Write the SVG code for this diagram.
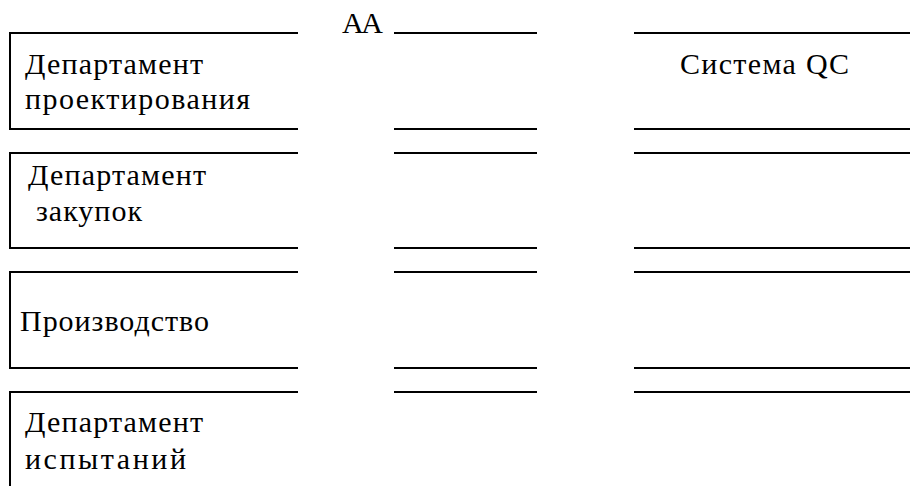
<svg xmlns="http://www.w3.org/2000/svg" width="910" height="486" viewBox="0 0 910 486">
<style>
.ln{stroke:#000;stroke-width:2;fill:none}
text{font-family:'Liberation Serif','Times New Roman',serif;font-size:30px;fill:#000}
</style>
<rect width="910" height="486" fill="#fff"/>
<g id="dept-design">
<path class="ln" d="M298 33H10V129H298"/>
<text x="25" y="74" textLength="178">Департамент</text>
<text x="25" y="109" textLength="225">проектирования</text>
</g>
<g id="dept-purchase">
<path class="ln" d="M298 153H10V248H298"/>
<text x="28" y="185" textLength="178">Департамент</text>
<text x="36" y="221" textLength="106">закупок</text>
</g>
<g id="production">
<path class="ln" d="M298 272H10V368H298"/>
<text x="20" y="331" textLength="189">Производство</text>
</g>
<g id="dept-testing">
<path class="ln" d="M298 392H10V486"/>
<text x="25" y="432" textLength="178">Департамент</text>
<text x="25" y="469" textLength="161">испытаний</text>
</g>
<g id="aa">
<text x="342" y="33" textLength="41">AA</text>
<path class="ln" d="M394 33H537M394 129H537M394 153H537M394 248H537M394 272H537M394 368H537M394 392H537"/>
</g>
<g id="qc-system">
<text x="680" y="74" textLength="169">Система QC</text>
<path class="ln" d="M634 33H910M634 129H910M634 153H910M634 248H910M634 272H910M634 368H910M634 392H910"/>
</g>
<g id="connectors"></g>
</svg>
